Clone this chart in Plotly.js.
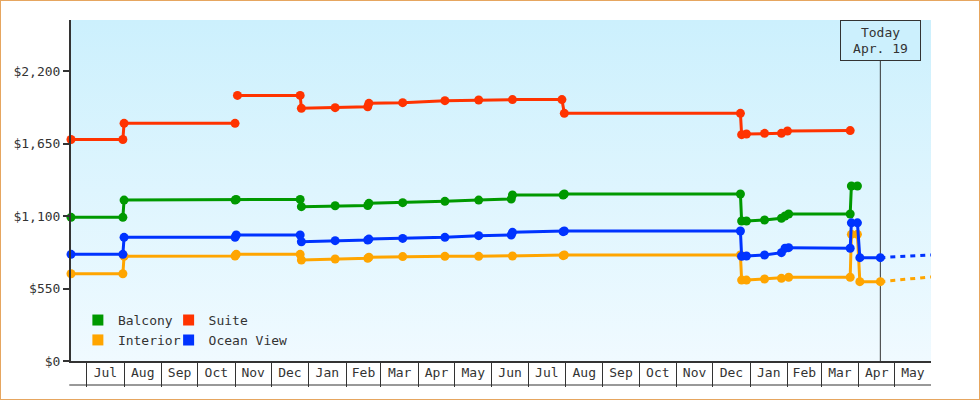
<!DOCTYPE html>
<html>
<head>
<meta charset="utf-8">
<script src="https://cdn.plot.ly/plotly-3.0.1.min.js"></script>
<style>
html,body{margin:0;padding:0;background:#fff;}
#wrap{position:relative;width:980px;height:400px;background:#fff;}
#chart{position:absolute;left:0;top:0;width:980px;height:400px;}
#frame{position:absolute;left:0;top:0;width:980px;height:400px;box-sizing:border-box;border:1px solid #e6a660;pointer-events:none;}
</style>
</head>
<body>
<div id="wrap"><div id="chart"></div><div id="frame"></div></div>
<script>
// ---- data ----
const seriesNames = ['Balcony', 'Suite', 'Interior', 'Ocean View'];
const seriesColors = ['#009900', '#ff3300', '#ffa500', '#0033ff'];

const balconyDates = ['2023-06-18','2023-07-31','2023-08-01','2023-11-01','2023-11-02','2023-12-25','2023-12-26','2024-01-23','2024-02-19','2024-02-20','2024-03-19','2024-04-23','2024-05-21','2024-06-17','2024-06-18','2024-07-30','2024-07-31','2024-12-24','2024-12-25','2024-12-29','2025-01-13','2025-01-27','2025-01-30','2025-02-02','2025-03-25','2025-03-26','2025-03-31'];
const balconyPrices = [1090,1090,1221,1221,1226,1226,1171,1178,1180,1196,1201,1211,1221,1229,1259,1259,1267,1267,1062,1062,1070,1083,1100,1115,1115,1328,1328];

const suiteDates = ['2023-06-18','2023-07-31','2023-08-01','2023-11-01','2023-11-02','2023-11-03','2023-12-25','2023-12-26','2024-01-23','2024-02-19','2024-02-20','2024-03-19','2024-04-23','2024-05-21','2024-06-18','2024-07-29','2024-07-31','2024-12-24','2024-12-25','2024-12-29','2025-01-13','2025-01-27','2025-02-01','2025-03-25'];
const suitePrices = [1680,1680,1803,1803,null,2015,2015,1917,1922,1929,1955,1960,1975,1980,1983,1983,1879,1879,1717,1722,1727,1727,1745,1748];

const interiorDates = ['2023-06-18','2023-07-31','2023-08-01','2023-11-01','2023-11-02','2023-12-25','2023-12-26','2024-01-23','2024-02-19','2024-02-20','2024-03-19','2024-04-23','2024-05-21','2024-06-18','2024-07-30','2024-07-31','2024-12-24','2024-12-25','2024-12-29','2025-01-13','2025-01-27','2025-02-02','2025-03-25','2025-03-26','2025-03-31','2025-04-02','2025-04-19'];
const interiorPrices = [662,662,794,797,809,809,766,774,779,787,792,794,794,797,799,804,804,614,614,622,627,635,635,961,961,602,602];

const oceanDates = ['2023-06-18','2023-07-31','2023-08-01','2023-11-01','2023-11-02','2023-12-25','2023-12-26','2024-01-23','2024-02-19','2024-02-20','2024-03-19','2024-04-23','2024-05-21','2024-06-17','2024-06-18','2024-07-30','2024-07-31','2024-12-24','2024-12-25','2024-12-29','2025-01-13','2025-01-27','2025-01-30','2025-02-02','2025-03-25','2025-03-26','2025-03-31','2025-04-02','2025-04-19'];
const oceanPrices = [809,809,938,938,956,956,905,913,918,925,930,938,951,956,976,981,986,986,795,797,804,822,855,860,855,1048,1048,784,784];

const forecastDates = ['2025-04-19','2025-05-31'];
const interiorForecast = [602, 638];
const oceanForecast = [784, 805];

const todayDate = '2025-04-19';
const todayLabel = 'Today<br>Apr. 19';
const yTicks = [0, 550, 1100, 1650, 2200];
const yTickText = ['$0', '$550', '$1,100', '$1,650', '$2,200'];
const xRange = ['2023-06-18', '2025-05-31'];
const yRange = [0, 2587];

// ---- chart ----
const FONT = 'DejaVu Sans Mono, Liberation Mono, monospace';
const INK = '#333333';

function seriesTrace(name, color, x, y) {
  return {
    type: 'scatter', mode: 'lines+markers', name: name, x: x, y: y,
    line: {color: color, width: 3}, marker: {color: color, size: 9},
    connectgaps: false, cliponaxis: false, showlegend: false
  };
}
function forecastTrace(name, color, x, y) {
  return {
    type: 'scatter', mode: 'lines', name: name + ' forecast', x: x, y: y,
    line: {color: color, width: 3, dash: '5px,5px'}, showlegend: false, hoverinfo: 'skip'
  };
}
function legendTrace(name, color, legendId) {
  return {
    type: 'scatter', mode: 'markers', name: name, x: [null], y: [null],
    marker: {symbol: 'square', size: 11, color: color}, legend: legendId,
    showlegend: true, hoverinfo: 'skip'
  };
}

const traces = [
  seriesTrace(seriesNames[0], seriesColors[0], balconyDates, balconyPrices),
  seriesTrace(seriesNames[1], seriesColors[1], suiteDates, suitePrices),
  seriesTrace(seriesNames[2], seriesColors[2], interiorDates, interiorPrices),
  seriesTrace(seriesNames[3], seriesColors[3], oceanDates, oceanPrices),
  forecastTrace(seriesNames[2], seriesColors[2], forecastDates, interiorForecast),
  forecastTrace(seriesNames[3], seriesColors[3], forecastDates, oceanForecast),
  legendTrace(seriesNames[0], seriesColors[0], 'legend'),
  legendTrace(seriesNames[2], seriesColors[2], 'legend'),
  legendTrace(seriesNames[1], seriesColors[1], 'legend2'),
  legendTrace(seriesNames[3], seriesColors[3], 'legend2')
];

const gradSvg = '<svg xmlns="http://www.w3.org/2000/svg" width="10" height="100" preserveAspectRatio="none">' +
  '<defs><linearGradient id="g" x1="0" y1="0" x2="0" y2="1">' +
  '<stop offset="0" stop-color="#ccf0fd"/><stop offset="1" stop-color="#f0faff"/>' +
  '</linearGradient></defs><rect x="0" y="0" width="10" height="100" fill="url(#g)"/></svg>';

const legendBase = {
  xanchor: 'left', yanchor: 'top', y: 0.164,
  bgcolor: 'rgba(0,0,0,0)', borderwidth: 0, orientation: 'v',
  font: {family: FONT, size: 13, color: INK}, tracegroupgap: 0
};

const layout = {
  width: 980, height: 400,
  margin: {l: 71, r: 49, t: 20, b: 39, pad: 0},
  paper_bgcolor: 'rgba(0,0,0,0)', plot_bgcolor: 'rgba(0,0,0,0)',
  font: {family: FONT, size: 13, color: INK},
  hovermode: 'closest',
  images: [{
    source: 'data:image/svg+xml;charset=utf-8,' + encodeURIComponent(gradSvg),
    xref: 'paper', yref: 'paper', x: 0, y: 1, sizex: 1, sizey: 1,
    xanchor: 'left', yanchor: 'top', sizing: 'stretch', layer: 'below'
  }],
  xaxis: {
    type: 'date', range: xRange, fixedrange: true,
    tickformat: '%b', dtick: 'M1', tick0: '2023-07-01', ticklabelmode: 'period',
    ticks: 'outside', ticklen: 24, tickwidth: 1, tickcolor: INK,
    ticklabelstandoff: -26,
    showline: true, linewidth: 2, linecolor: INK,
    showgrid: false, zeroline: false,
    tickfont: {family: FONT, size: 13, color: INK}
  },
  yaxis: {
    range: yRange, fixedrange: true,
    tickmode: 'array', tickvals: yTicks, ticktext: yTickText,
    ticks: 'outside', ticklen: 6, tickwidth: 2, tickcolor: INK,
    showline: true, linewidth: 2, linecolor: INK,
    showgrid: false, zeroline: false,
    tickfont: {family: FONT, size: 13, color: INK}
  },
  legend: Object.assign({}, legendBase, {x: 0.008}),
  legend2: Object.assign({}, legendBase, {x: 0.1135}),
  shapes: [
    {type: 'line', xref: 'x', yref: 'paper', x0: todayDate, x1: todayDate, y0: 0, y1: 1,
     line: {color: INK, width: 1}, layer: 'below'},
    {type: 'line', xref: 'paper', yref: 'paper', x0: -0.002, x1: 1, y0: -0.0704, y1: -0.0704,
     line: {color: INK, width: 1}}
  ],
  annotations: [{
    x: todayDate, xref: 'x', y: 1, yref: 'paper', xanchor: 'center', yanchor: 'top',
    text: todayLabel, showarrow: false, align: 'center',
    bgcolor: '#ccf0fd', bordercolor: INK, borderwidth: 1, borderpad: 3,
    width: 73, height: 33,
    font: {family: FONT, size: 13, color: INK}
  }]
};

Plotly.newPlot('chart', traces, layout, {displayModeBar: false});
</script>
</body>
</html>
